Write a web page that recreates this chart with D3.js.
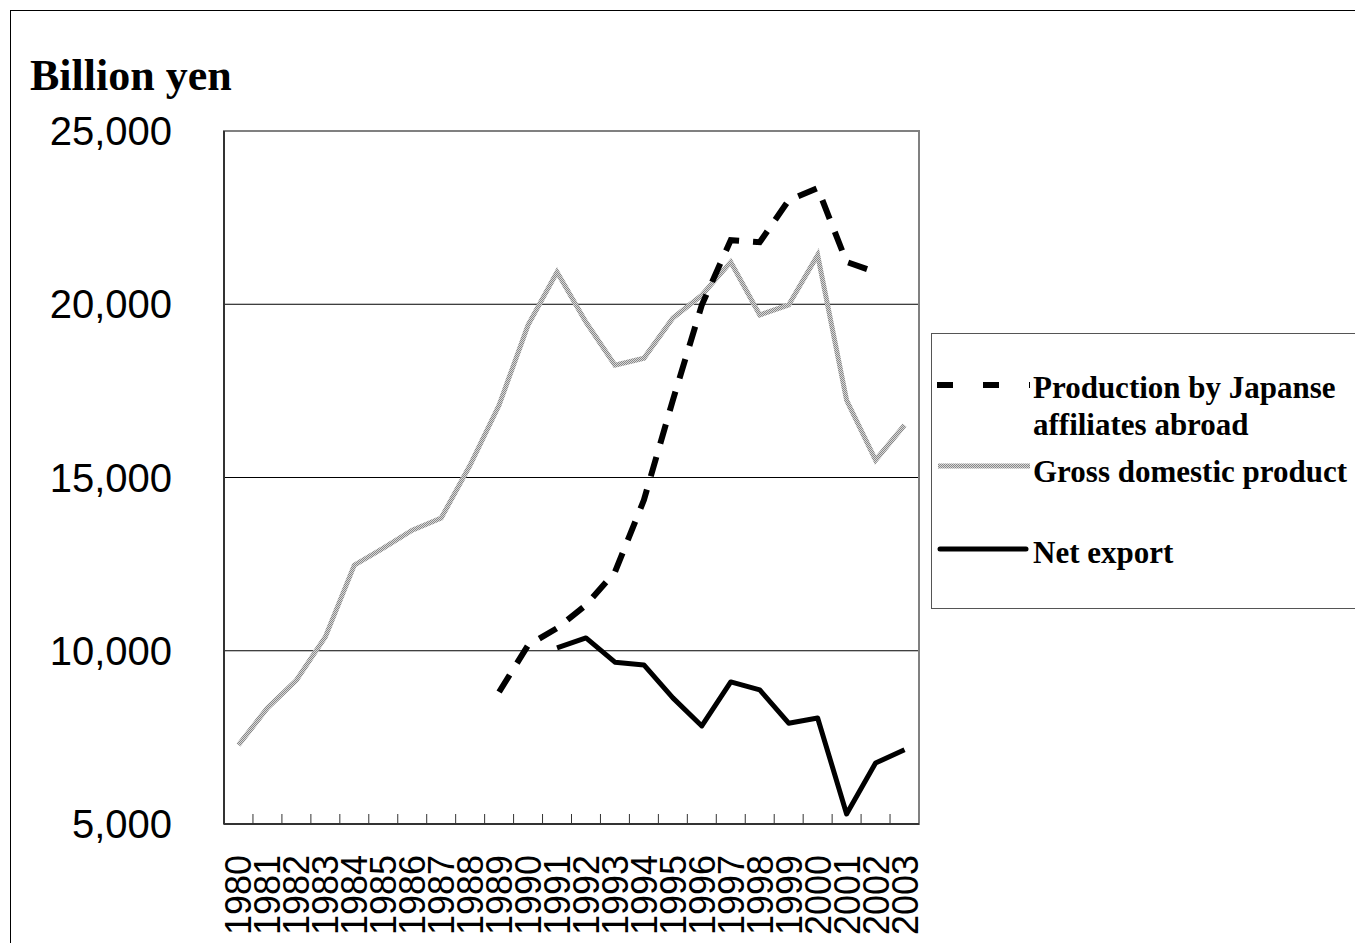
<!DOCTYPE html>
<html><head><meta charset="utf-8">
<script src="https://cdn.jsdelivr.net/npm/d3@7"></script>
<style>body{margin:0;background:#fff}</style></head>
<body><svg id="c" width="1355" height="943"></svg>
<script>
const years = d3.range(1980, 2004).map(String);
const gdp = [7280,8350,9150,10400,12470,12960,13480,13830,15360,17090,19400,20930,19480,18240,18440,19600,20260,21220,19690,19980,21420,17230,15500,16510];
const prodYears = d3.range(1989, 2003).map(String);
const production = [8810,10160,10650,11320,12270,14350,17230,19980,21850,21790,23000,23350,21220,20930];
const netYears = d3.range(1991, 2004).map(String);
const netExport = [10080,10370,9670,9590,8640,7830,9100,8870,7910,8060,5290,6760,7140];
const yTicks = [5000,10000,15000,20000,25000];

const svg = d3.select("#c");
const defs = svg.append("defs");
const pat = defs.append("pattern").attr("id","dots").attr("width",2).attr("height",2).attr("patternUnits","userSpaceOnUse");
pat.append("rect").attr("width",2).attr("height",2).attr("fill","#d8d8d8");
pat.append("rect").attr("width",1).attr("height",1).attr("fill","#888");
pat.append("rect").attr("x",1).attr("y",1).attr("width",1).attr("height",1).attr("fill","#888");

svg.append("rect").attr("x",10.5).attr("y",10.5).attr("width",1360).attr("height",940).attr("fill","none").attr("stroke","#000");

const L=224,R=919,T=131,B=824;
const x = d3.scaleBand().domain(years).range([L,R]);
const cx = d => x(d)+x.bandwidth()/2;
const y = d3.scaleLinear().domain([5000,25000]).range([B,T]);

svg.append("g").selectAll("line").data(yTicks.filter(v=>v>5000&&v<25000)).join("line")
  .attr("x1",L).attr("x2",R).attr("y1",d=>y(d)).attr("y2",d=>y(d)).attr("stroke","#000").attr("stroke-width",1);
svg.append("rect").attr("x",L).attr("y",T).attr("width",R-L).attr("height",B-T).attr("fill","none").attr("stroke","#808080").attr("stroke-width",2);
svg.append("line").attr("x1",L).attr("x2",L).attr("y1",T).attr("y2",B).attr("stroke","#333").attr("stroke-width",2);
svg.append("line").attr("x1",L).attr("x2",R).attr("y1",B).attr("y2",B).attr("stroke","#333").attr("stroke-width",2);

svg.append("g").selectAll("text").data(yTicks).join("text")
  .attr("x",172).attr("y",d=>y(d)+14).attr("text-anchor","end")
  .attr("font-family","Liberation Sans, Arial, sans-serif").attr("font-size",40).text(d=>d3.format(",")(d));
svg.append("text").attr("x",30).attr("y",90).attr("font-family","Liberation Serif, serif").attr("font-weight","bold").attr("font-size",44).text("Billion yen");

svg.append("g").selectAll("line").data(years.slice(1)).join("line")
  .attr("x1",d=>x(d)).attr("x2",d=>x(d)).attr("y1",B).attr("y2",B-10).attr("stroke","#333");
svg.append("g").selectAll("text").data(years).join("text")
  .attr("transform",d=>`translate(${cx(d)+13},${935}) rotate(-90)`).attr("text-anchor","start")
  .attr("font-family","Liberation Sans, Arial, sans-serif").attr("font-size",36).text(d=>d);

const line = d3.line().x(d=>cx(d[0])).y(d=>y(d[1]));
svg.append("path").datum(years.map((k,i)=>[k,gdp[i]])).attr("d",line).attr("fill","none").attr("stroke","url(#dots)").attr("stroke-width",5);
svg.append("path").datum(prodYears.map((k,i)=>[k,production[i]])).attr("d",line).attr("fill","none").attr("stroke","#000").attr("stroke-width",6).attr("stroke-dasharray","20,14");
svg.append("path").datum(netYears.map((k,i)=>[k,netExport[i]])).attr("d",line).attr("fill","none").attr("stroke","#000").attr("stroke-width",5).attr("stroke-linejoin","round");

const lg = svg.append("g");
lg.append("rect").attr("x",931.5).attr("y",333.5).attr("width",440).attr("height",275).attr("fill","#fff").attr("stroke","#555");
lg.append("line").attr("x1",937).attr("x2",1030).attr("y1",385).attr("y2",385).attr("stroke","#000").attr("stroke-width",6).attr("stroke-dasharray","16,30");
lg.append("line").attr("x1",938).attr("x2",1030).attr("y1",466).attr("y2",466).attr("stroke","url(#dots)").attr("stroke-width",5);
lg.append("line").attr("x1",940).attr("x2",1026).attr("y1",549).attr("y2",549).attr("stroke","#000").attr("stroke-width",5).attr("stroke-linecap","round");
const lt = (t,yy)=>lg.append("text").attr("x",1033).attr("y",yy).attr("font-family","Liberation Serif, serif").attr("font-weight","bold").attr("font-size",31).text(t);
lt("Production by Japanse",398); lt("affiliates abroad",435); lt("Gross domestic product",482); lt("Net export",563);
</script></body></html>
